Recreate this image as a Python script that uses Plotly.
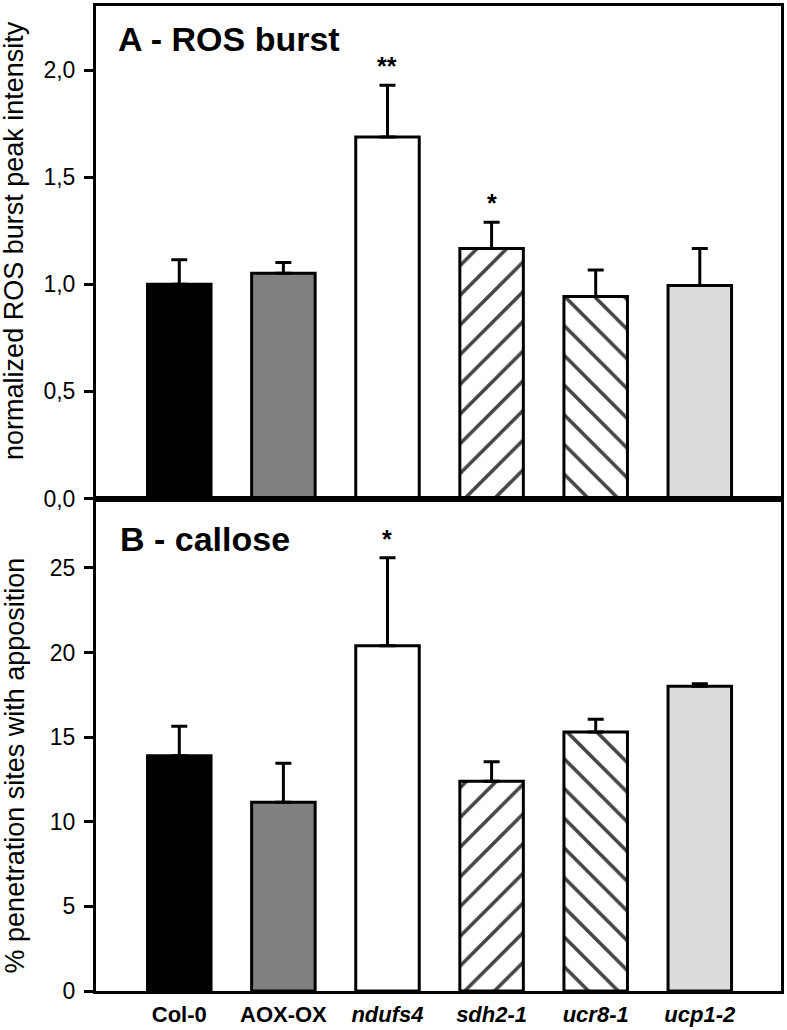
import plotly.graph_objects as go

categories = ["Col-0", "AOX-OX", "ndufs4", "sdh2-1", "ucr8-1", "ucp1-2"]
tick_labels = ["<b>Col-0</b>", "<b>AOX-OX</b>", "<b><i>ndufs4</i></b>",
               "<b><i>sdh2-1</i></b>", "<b><i>ucr8-1</i></b>", "<b><i>ucp1-2</i></b>"]
ros_mean = [1.00, 1.052, 1.688, 1.167, 0.943, 0.995]
ros_err = [0.115, 0.05, 0.242, 0.123, 0.124, 0.172]
ros_sig = ["", "", "**", "*", "", ""]
callose_mean = [13.9, 11.15, 20.4, 12.4, 15.3, 18.0]
callose_err = [1.75, 2.3, 5.2, 1.15, 0.75, 0.15]
callose_sig = ["", "", "*", "", "", ""]

fill_colors = ["#000000", "#808080", "#ffffff", "#ffffff", "#ffffff", "#dcdcdc"]
patterns = ["", "", "", "/", "\\", ""]

xpos = list(range(len(categories)))

def bar_trace(means, errs, xa, ya):
    return go.Bar(
        x=xpos, y=means, xaxis=xa, yaxis=ya, width=0.61,
        marker=dict(color=fill_colors, line=dict(color="black", width=3),
                    pattern=dict(shape=patterns, fgcolor="black", bgcolor="white",
                                 fgopacity=1, size=21, solidity=0.17)),
        error_y=dict(type="data", array=errs, arrayminus=[0] * len(errs),
                     symmetric=False, color="black", thickness=3, width=8),
        showlegend=False, hoverinfo="skip",
    )

fig = go.Figure()
fig.add_trace(bar_trace(ros_mean, ros_err, "x", "y"))
fig.add_trace(bar_trace(callose_mean, callose_err, "x2", "y2"))

annotations = []
for i, s in enumerate(ros_sig):
    if s:
        annotations.append(dict(x=i, y=ros_mean[i] + ros_err[i], xref="x", yref="y",
                                text="<b>" + s + "</b>", showarrow=False, yanchor="bottom",
                                yshift=3, font=dict(size=25, color="black")))
for i, s in enumerate(callose_sig):
    if s:
        annotations.append(dict(x=i, y=callose_mean[i] + callose_err[i], xref="x2", yref="y2",
                                text="<b>" + s + "</b>", showarrow=False, yanchor="bottom",
                                yshift=3, font=dict(size=25, color="black")))

annotations.append(dict(x=0.029, y=0.988, xref="paper", yref="paper", xanchor="left", yanchor="top",
                        text="<b>A - ROS burst</b>", showarrow=False,
                        font=dict(size=34, color="black")))
annotations.append(dict(x=0.032, y=0.480, xref="paper", yref="paper", xanchor="left", yanchor="top",
                        text="<b>B - callose</b>", showarrow=False,
                        font=dict(size=34, color="black")))
annotations.append(dict(x=-0.119, y=0.762, xref="paper", yref="paper", xanchor="center",
                        yanchor="middle", textangle=-90,
                        text="normalized ROS burst peak intensity", showarrow=False,
                        font=dict(size=27, color="black")))
annotations.append(dict(x=-0.119, y=0.2295, xref="paper", yref="paper", xanchor="center",
                        yanchor="middle", textangle=-90,
                        text="% penetration sites with apposition", showarrow=False,
                        font=dict(size=27, color="black")))

axis_common = dict(showline=True, linecolor="black", linewidth=3, mirror=True,
                   showgrid=False, zeroline=False)

fig.update_layout(
    width=787, height=1030,
    margin=dict(l=96, r=5, t=3, b=38),
    paper_bgcolor="white", plot_bgcolor="white",
    font=dict(family="Liberation Sans, Arial, sans-serif", color="black"),
    separators=", ",
    xaxis=dict(domain=[0, 1], anchor="y", range=[-0.8, 5.78], showticklabels=False,
               ticks="", **axis_common),
    yaxis=dict(domain=[0.5, 1], anchor="x", range=[0, 2.3], tickmode="linear", tick0=0,
               dtick=0.5, tickformat=".1f", ticks="outside", ticklen=9, tickwidth=3,
               tickcolor="black", tickfont=dict(size=23), ticklabelstandoff=4,
               **axis_common),
    xaxis2=dict(domain=[0, 1], anchor="y2", range=[-0.8, 5.78], tickmode="array",
                tickvals=xpos, ticktext=tick_labels, ticks="", tickfont=dict(size=22),
                ticklabelstandoff=2, **axis_common),
    yaxis2=dict(domain=[0, 0.5], anchor="x2", range=[0, 29.1], tickmode="linear", tick0=0,
                dtick=5, ticks="outside", ticklen=9, tickwidth=3, tickcolor="black",
                tickfont=dict(size=23), ticklabelstandoff=4, **axis_common),
    annotations=annotations,
)

fig.write_html("out.html", config={"displayModeBar": False},
               post_script="document.body.style.margin='0';")
